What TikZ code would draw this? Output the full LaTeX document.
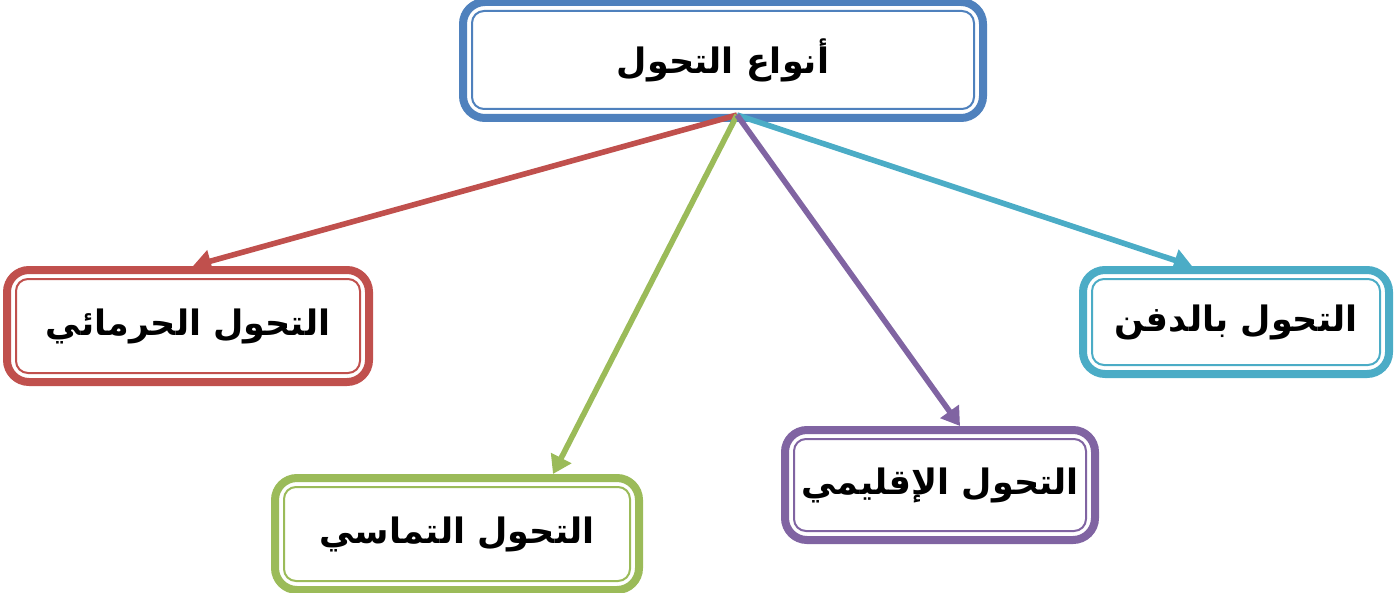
\documentclass[tikz,border=0pt]{standalone}
\usepackage{fontspec}
\usepackage{tikz}
\usetikzlibrary{arrows.meta}
\TeXXeTstate=1
\newfontfamily\arabicfont[Script=Arabic]{DejaVu Sans}
\definecolor{boxblue}{HTML}{4F81BD}
\definecolor{boxred}{HTML}{C0504D}
\definecolor{boxgreen}{HTML}{9BBB59}
\definecolor{boxpurple}{HTML}{8064A2}
\definecolor{boxcyan}{HTML}{4BACC6}
\tikzset{
  kindbox/.style={draw=#1, line width=4pt, rounded corners=11pt, fill=white,
    font=\arabicfont\bfseries\fontsize{17.5}{20}\selectfont},
  kindarrow/.style={draw=#1, line width=2.8pt, -{Triangle[length=9pt,width=11pt]}}
}
\begin{document}
\begin{tikzpicture}[x=0.5pt,y=-0.5pt]
    % types of transformation
    \useasboundingbox (0,0) rectangle (1400,593);
    \node[kindbox=boxblue, minimum width=260pt, minimum height=58pt] (top) at (723,60) {\beginR أنواع التحول\endR};
    \node[kindbox=boxred, minimum width=181pt, minimum height=56pt] (red) at (188,326) {\beginR التحول الحرمائي\endR};
    \node[kindbox=boxcyan, minimum width=153pt, minimum height=52pt] (cyan) at (1236,322) {\beginR التحول بالدفن\endR};
    \node[kindbox=boxgreen, minimum width=182pt, minimum height=56pt] (green) at (457,534) {\beginR التحول التماسي\endR};
    \node[kindbox=boxpurple, minimum width=155pt, minimum height=55pt] (purple) at (940,485) {\beginR التحول الإقليمي\endR};
    \foreach \n/\c in {top/boxblue,red/boxred,cyan/boxcyan,green/boxgreen,purple/boxpurple}
      \draw[\c, line width=1pt, rounded corners=6pt] ([xshift=6.5pt,yshift=-6.5pt]\n.north west) rectangle ([xshift=-6.5pt,yshift=6.5pt]\n.south east);
    \coordinate (hub) at ([xshift=7pt,yshift=3.5pt]top.south);
    \draw[kindarrow=boxred] (hub) -- ([xshift=2.5pt]red.north);
    \draw[kindarrow=boxcyan] (hub) -- ([xshift=-22pt]cyan.north);
    \draw[kindarrow=boxgreen] (hub) -- ([xshift=48pt]green.north);
    \draw[kindarrow=boxpurple] (hub) -- ([xshift=10pt]purple.north);
\end{tikzpicture}
\end{document}
